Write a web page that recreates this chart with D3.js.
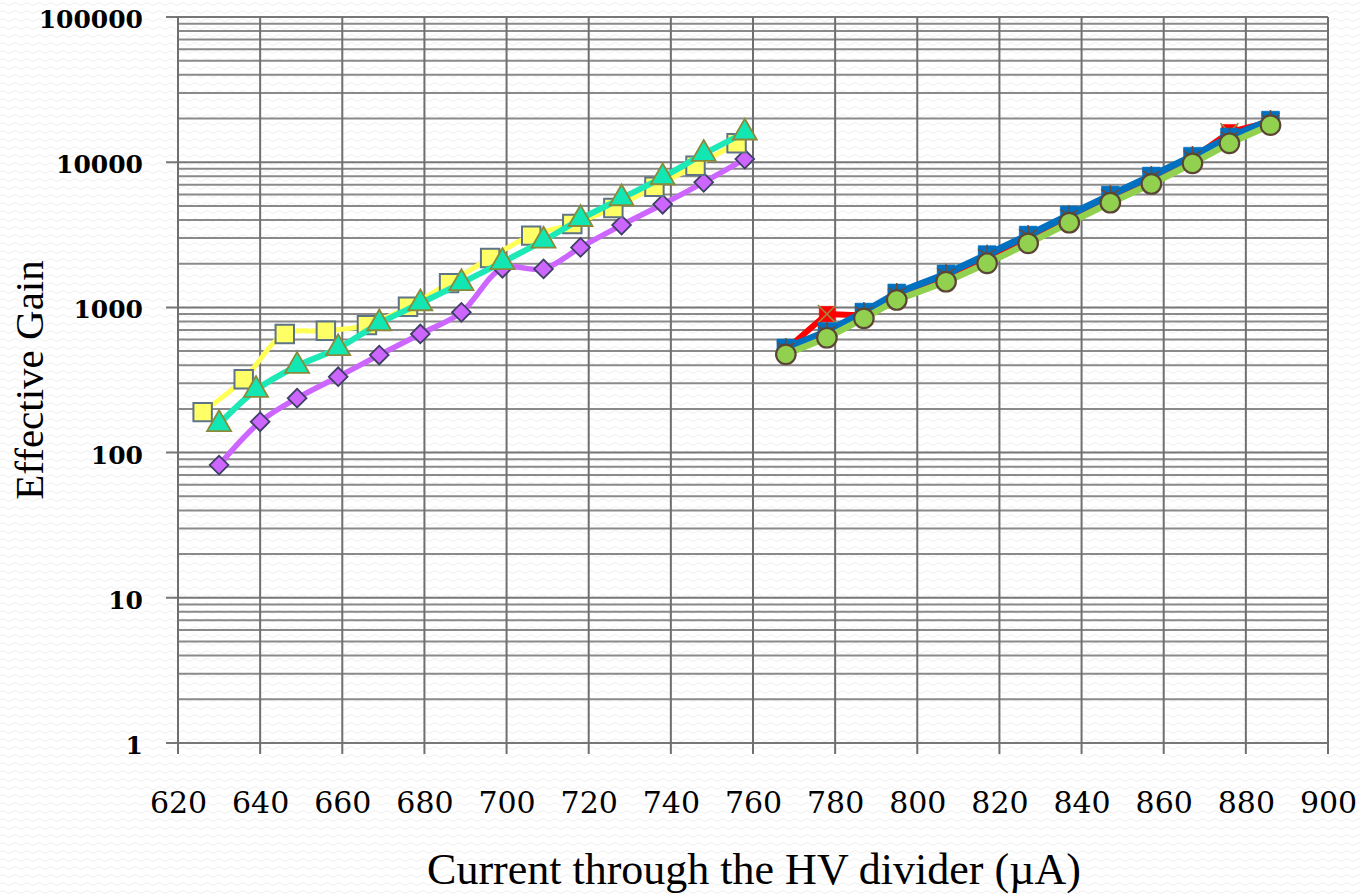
<!DOCTYPE html>
<html>
<head>
<meta charset="utf-8">
<script src="https://cdn.jsdelivr.net/npm/d3@7"></script>
<style>
	html, body { margin: 0; padding: 0; background: #fff; }
	svg { display: block; }
</style>
</head>
<body>
<div id="chart"></div>
<script>
// left group (three smooth series)
const squareCurrent = [626, 636, 646, 656, 666, 676, 686, 696, 706, 716, 726, 736, 746, 756];
const squareGain = [190, 320, 655, 690, 755, 1010, 1470, 2190, 3120, 3750, 4840, 6780, 9460, 13500];

const triangleCurrent = [630, 639, 649, 659, 669, 679, 689, 699, 709, 718, 728, 738, 748, 758];
const triangleGain = [157, 270, 395, 523, 777, 1067, 1470, 2050, 2880, 4060, 5640, 7870, 11400, 16000];

const diamondCurrent = [630, 640, 649, 659, 669, 679, 689, 699, 709, 718, 728, 738, 748, 758];
const diamondGain = [82, 163, 237, 333, 470, 656, 925, 1860, 1840, 2590, 3690, 5130, 7270, 10500];

// right group (three straight series)
const rightCurrent = [768, 778, 787, 795, 807, 817, 827, 837, 847, 857, 867, 876, 886];
const redGain = [510, 900, 880, 1150, 1620, 2200, 3000, 4100, 5650, 7700, 10600, 16100, 19000];
const blueGain = [525, 682, 929, 1257, 1700, 2310, 3150, 4330, 5940, 8030, 11000, 14900, 19500];
const greenGain = [475, 618, 841, 1125, 1503, 2013, 2763, 3830, 5260, 7080, 9820, 13500, 18000];

const xTicks = [620, 640, 660, 680, 700, 720, 740, 760, 780, 800, 820, 840, 860, 880, 900];
const yTicks = [1, 10, 100, 1000, 10000, 100000];

const xTitle = "Current through the HV divider (µA)";
const yTitle = "Effective Gain";

const width = 1360;
const height = 894;
const margin = ({ top: 17, right: 32, bottom: 151, left: 178 });

const x = d3.scaleLinear()
	.domain([620, 900])
	.range([margin.left, width - margin.right]);

const y = d3.scaleLog()
	.domain([1, 100000])
	.range([height - margin.bottom, margin.top]);

const svg = d3.select("#chart")
	.append("svg")
	.attr("width", width)
	.attr("height", height)
	.attr("viewBox", [0, 0, width, height]);

// faint wavy paper texture
const defs = svg.append("defs");
const pat = defs.append("pattern")
	.attr("id", "paper")
	.attr("width", 12)
	.attr("height", 8)
	.attr("patternUnits", "userSpaceOnUse");
pat.append("rect").attr("width", 12).attr("height", 8).attr("fill", "#ffffff");
pat.append("path")
	.attr("d", "M0,4 Q3,1 6,4 T12,4")
	.attr("fill", "none")
	.attr("stroke", "#f0f0f0")
	.attr("stroke-width", 1);

svg.append("rect")
	.attr("width", width)
	.attr("height", height)
	.attr("fill", "url(#paper)");

// grid
const minor = [];
for (let d = 1; d < 100000; d *= 10) {
	for (let k = 2; k <= 9; ++k) minor.push(d * k);
}

svg.append("g")
	.attr("stroke", "#8a8a8a")
	.attr("stroke-width", 2)
	.selectAll("line")
	.data(minor)
	.join("line")
	.attr("x1", x(620))
	.attr("x2", x(900))
	.attr("y1", d => y(d))
	.attr("y2", d => y(d));

svg.append("g")
	.attr("stroke", "#777")
	.attr("stroke-width", 2)
	.selectAll("line")
	.data(yTicks)
	.join("line")
	.attr("x1", x(620) - 12)
	.attr("x2", x(900))
	.attr("y1", d => y(d))
	.attr("y2", d => y(d));

svg.append("g")
	.attr("stroke", "#6f6f6f")
	.attr("stroke-width", 2)
	.selectAll("line")
	.data(xTicks)
	.join("line")
	.attr("x1", d => x(d))
	.attr("x2", d => x(d))
	.attr("y1", y(100000))
	.attr("y2", y(1) + 11);

// axes labels
const xAxis = g => g
	.attr("transform", `translate(0,${y(1)})`)
	.call(d3.axisBottom(x).tickValues(xTicks).tickSize(0).tickPadding(70))
	.call(g => g.select(".domain").remove())
	.call(g => g.selectAll("text")
		.attr("dy", null)
		.attr("fill", "#000")
		.attr("font-family", "'DejaVu Serif', serif")
		.attr("font-size", 30));

const yAxis = g => g
	.attr("transform", `translate(${margin.left},0)`)
	.call(d3.axisLeft(y).tickValues(yTicks).tickFormat(d3.format("d")).tickSize(0).tickPadding(35))
	.call(g => g.select(".domain").remove())
	.call(g => g.selectAll("text")
		.attr("dy", "0.42em")
		.attr("fill", "#000")
		.attr("font-family", "'DejaVu Serif', serif")
		.attr("font-weight", "bold")
		.attr("font-size", 25));

svg.append("g").call(xAxis);
svg.append("g").call(yAxis);

svg.append("text")
	.attr("x", (x(620) + x(900)) / 2 + 1)
	.attr("y", 884)
	.attr("text-anchor", "middle")
	.attr("font-family", "'Liberation Serif', serif")
	.attr("font-size", 44)
	.attr("fill", "#000")
	.text(xTitle);

svg.append("text")
	.attr("transform", `translate(43,${(y(1) + y(100000)) / 2}) rotate(-90)`)
	.attr("text-anchor", "middle")
	.attr("font-family", "'Liberation Serif', serif")
	.attr("font-size", 41)
	.attr("fill", "#000")
	.text(yTitle);

// series
function drawSeries(xs, ys, opt) {
	const pts = xs.map((d, i) => [d, ys[i]]);
	const line = d3.line()
		.x(d => x(d[0]))
		.y(d => y(d[1]))
		.curve(opt.smooth ? d3.curveCatmullRom.alpha(0.5) : d3.curveLinear);

	const g = svg.append("g");
	g.append("path")
		.datum(pts)
		.attr("fill", "none")
		.attr("stroke", opt.color)
		.attr("stroke-width", opt.lineWidth)
		.attr("stroke-linejoin", "round")
		.attr("stroke-linecap", "round")
		.attr("d", line);

	const m = g.selectAll("g.marker")
		.data(pts)
		.join("g")
		.attr("class", "marker")
		.attr("transform", d => `translate(${x(d[0])},${y(d[1])})`);

	m.append("path")
		.attr("d", d3.symbol(opt.symbol, opt.size))
		.attr("transform", opt.rotate ? `rotate(${opt.rotate})` : null)
		.attr("fill", opt.fill)
		.attr("stroke", opt.stroke)
		.attr("stroke-width", opt.strokeWidth);

	if (opt.cross) {
		m.append("path")
			.attr("d", d3.symbol(d3.symbolX, opt.size * 0.9))
			.attr("fill", "none")
			.attr("stroke", opt.cross)
			.attr("stroke-width", 1.5);
	}
	if (opt.star) {
		m.append("path")
			.attr("d", d3.symbol(d3.symbolAsterisk, opt.size * 0.9))
			.attr("fill", "none")
			.attr("stroke", opt.star)
			.attr("stroke-width", 1.5);
	}
}

drawSeries(diamondCurrent, diamondGain, {
	smooth: true, color: "#cc66ff", lineWidth: 5.5,
	symbol: d3.symbolSquare, size: 175, rotate: 45,
	fill: "#cc66ff", stroke: "#3f3f66", strokeWidth: 1.8
});

drawSeries(squareCurrent, squareGain, {
	smooth: true, color: "#ffff55", lineWidth: 5,
	symbol: d3.symbolSquare, size: 340,
	fill: "#ffff66", stroke: "#5f7387", strokeWidth: 2
});

drawSeries(triangleCurrent, triangleGain, {
	smooth: true, color: "#1de9b6", lineWidth: 6,
	symbol: d3.symbolTriangle, size: 250,
	fill: "#12e6b2", stroke: "#8a8a3a", strokeWidth: 1.8
});

drawSeries(rightCurrent, redGain, {
	smooth: false, color: "#ff0000", lineWidth: 6,
	symbol: d3.symbolSquare, size: 240,
	fill: "#ff0000", stroke: "#ff0000", strokeWidth: 0.5, cross: "#9c8a3c"
});

drawSeries(rightCurrent, blueGain, {
	smooth: false, color: "#0070c0", lineWidth: 7,
	symbol: d3.symbolSquare, size: 320,
	fill: "#0070c0", stroke: "#0070c0", strokeWidth: 0.5, star: "#6b4a38"
});

drawSeries(rightCurrent, greenGain, {
	smooth: false, color: "#92d050", lineWidth: 6.5,
	symbol: d3.symbolCircle, size: 300,
	fill: "#92d050", stroke: "#5b4636", strokeWidth: 2.2
});
</script>
</body>
</html>
